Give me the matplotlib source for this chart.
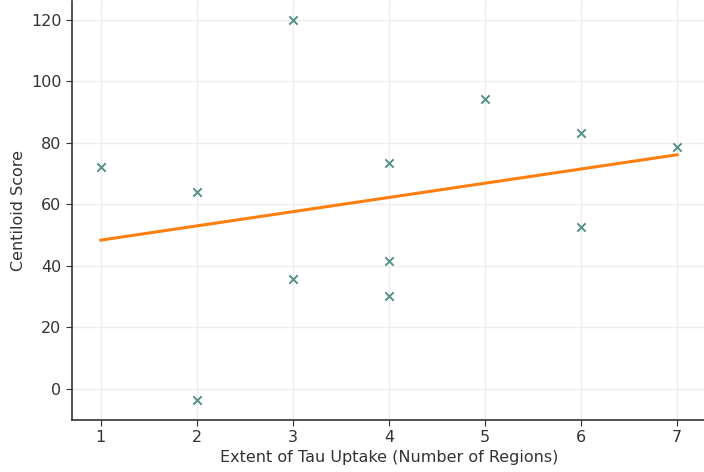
import numpy as np
import matplotlib
matplotlib.use("Agg")
import matplotlib.pyplot as plt

# Tau uptake extent (number of regions) vs. Centiloid amyloid score
tau_regions = [1, 2, 2, 3, 3, 4, 4, 4, 5, 6, 6, 7]
centiloid = [72.3, 63.9, -3.6, 120.0, 35.7, 73.6, 41.5, 30.1, 94.3, 83.3, 52.5, 78.8]
x_ticks = [1, 2, 3, 4, 5, 6, 7]
y_ticks = [0, 20, 40, 60, 80, 100, 120]

x = np.array(tau_regions, dtype=float)
y = np.array(centiloid, dtype=float)
slope, intercept = np.polyfit(x, y, 1)
x_fit = np.array([x.min(), x.max()])
y_fit = slope * x_fit + intercept

fig = plt.figure(figsize=(7.04, 4.72), dpi=100)
ax = fig.add_axes([72 / 704, 52 / 472, 634 / 704, 419 / 472])

ax.scatter(x, y, marker="x", s=36, color="#558f87", linewidths=1.4, zorder=3)
ax.plot(x_fit, y_fit, color="#ff7f0e", linewidth=2.2, zorder=2)

ax.set_xticks(x_ticks)
ax.set_yticks(y_ticks)
ax.set_xlim(0.7, 7.3)
ax.set_ylim(-10.2, 126.2)
ax.grid(True, color="#ededed", linewidth=1.0)
ax.set_axisbelow(True)
for side in ("top", "right"):
    ax.spines[side].set_visible(False)
for side in ("left", "bottom"):
    ax.spines[side].set_color("#333333")
    ax.spines[side].set_linewidth(1.2)
ax.tick_params(labelsize=11.5, colors="#333333", length=4)

ax.set_xlabel("Extent of Tau Uptake (Number of Regions)", fontsize=11.5, color="#333333", labelpad=3)
ax.set_ylabel("Centiloid Score", fontsize=11.5, color="#333333")

fig.savefig("out.png", dpi=100)
